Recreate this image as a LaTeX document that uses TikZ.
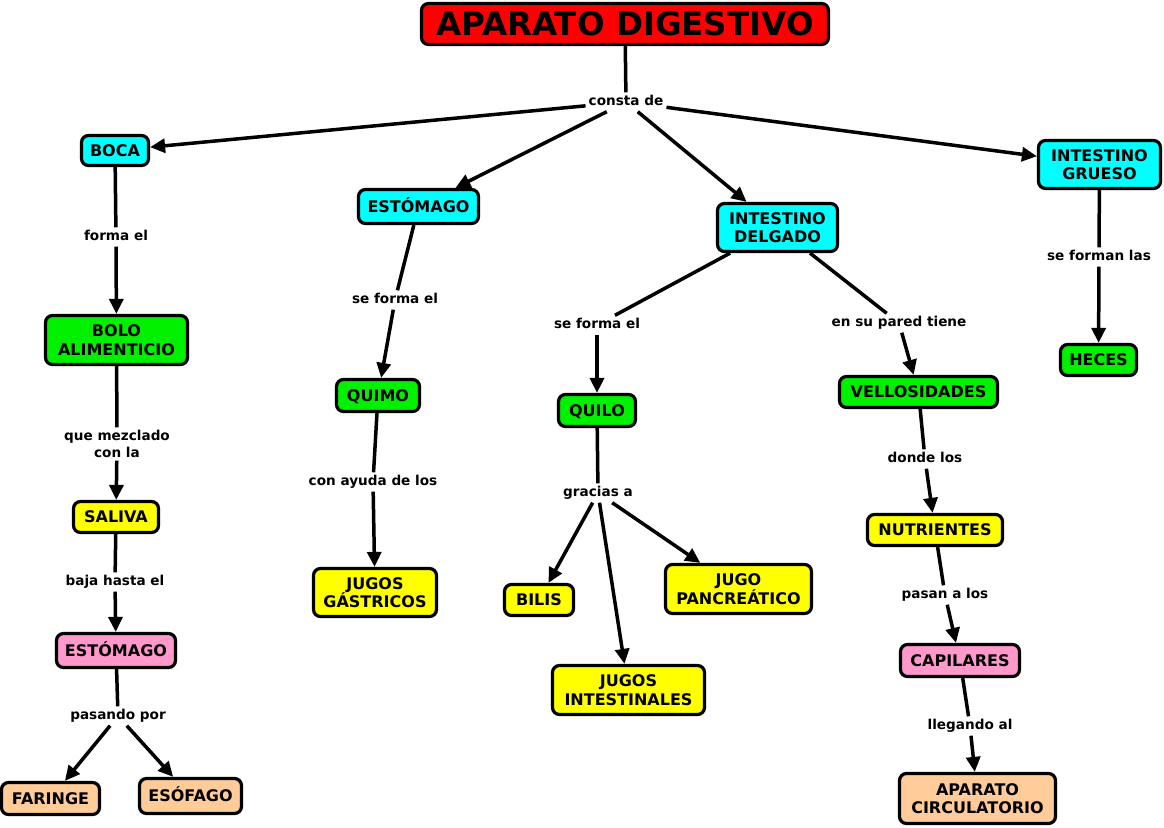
\documentclass[tikz,border=0pt]{standalone}
\usepackage{fontspec}
\setmainfont{DejaVu Sans}
\usetikzlibrary{arrows.meta}
\definecolor{cred}{HTML}{FF0000}
\definecolor{ccyan}{HTML}{00FFFF}
\definecolor{cgreen}{HTML}{00F000}
\definecolor{cyellow}{HTML}{FFFF00}
\definecolor{cpink}{HTML}{FF99CC}
\definecolor{cpeach}{HTML}{FFCC99}
\begin{document}
\begin{tikzpicture}[x=1pt,y=-1pt,
  boxb/.style={draw=black,line width=3.2pt,rounded corners=7pt,align=center,
    font=\bfseries\fontsize{16}{18.5}\selectfont,inner sep=0pt},
  box/.style={boxb,text height=11.7pt,text depth=0pt},
  lblb/.style={font=\bfseries\fontsize{13.6}{16.5}\selectfont,align=center,
    inner xsep=3pt,inner ysep=3pt},
  lbl/.style={lblb,text height=10pt,text depth=3pt},
  con/.style={line width=3.5pt},
  arr/.style={con,-{Triangle[length=15pt,width=14pt]}}]
\useasboundingbox (0,0) rectangle (1164,827);

% concept nodes
\node[box,fill=cred,minimum width=407,minimum height=41,
  font=\bfseries\fontsize{32.5}{36}\selectfont,text height=23.6pt] (title) at (625,24) {APARATO DIGESTIVO};
\node[box,fill=ccyan,minimum width=67,minimum height=30] (boca) at (115,150.5) {BOCA};
\node[box,fill=ccyan,minimum width=120,minimum height=34] (estc) at (418.5,206.5) {ESTÓMAGO};
\node[boxb,fill=ccyan,minimum width=120,minimum height=48] (delg) at (777.5,227.5) {INTESTINO\\DELGADO};
\node[boxb,fill=ccyan,minimum width=122,minimum height=48] (grue) at (1099.5,164.5) {INTESTINO\\GRUESO};
\node[boxb,fill=cgreen,minimum width=142,minimum height=49] (bolo) at (116.5,340) {BOLO\\ALIMENTICIO};
\node[box,fill=cyellow,minimum width=85,minimum height=31] (sali) at (116,517) {SALIVA};
\node[box,fill=cpink,minimum width=119,minimum height=34] (estp) at (116,650.5) {ESTÓMAGO};
\node[box,fill=cpeach,minimum width=98,minimum height=32] (fari) at (50.5,798.5) {FARINGE};
\node[box,fill=cpeach,minimum width=102,minimum height=35] (esof) at (190.5,796) {ESÓFAGO};
\node[box,fill=cgreen,minimum width=83,minimum height=32] (quim) at (378,395.5) {QUIMO};
\node[boxb,fill=cyellow,minimum width=123,minimum height=48] (gast) at (375,592.5) {JUGOS\\GÁSTRICOS};
\node[box,fill=cgreen,minimum width=77,minimum height=32] (quil) at (597,410.5) {QUILO};
\node[box,fill=cyellow,minimum width=69,minimum height=31] (bili) at (539,600) {BILIS};
\node[boxb,fill=cyellow,minimum width=146,minimum height=49] (panc) at (738.5,589) {JUGO\\PANCREÁTICO};
\node[boxb,fill=cyellow,minimum width=152,minimum height=49] (inte) at (628.5,690) {JUGOS\\INTESTINALES};
\node[box,fill=cgreen,minimum width=158,minimum height=31] (vell) at (918.5,392) {VELLOSIDADES};
\node[box,fill=cyellow,minimum width=135,minimum height=31] (nutr) at (935,530) {NUTRIENTES};
\node[box,fill=cpink,minimum width=119,minimum height=32] (capi) at (960,660.5) {CAPILARES};
\node[boxb,fill=cpeach,minimum width=156,minimum height=50] (circ) at (977.5,798.5) {APARATO\\CIRCULATORIO};
\node[box,fill=cgreen,minimum width=76,minimum height=31] (hece) at (1098.5,360) {HECES};

% linking phrases
\node[lbl] (l0) at (626,102) {consta de};
\node[lbl] (l1) at (116,237) {forma el};
\node[lblb] (l2) at (117,444) {que mezclado\\con la};
\node[lbl] (l3) at (115,582) {baja hasta el};
\node[lbl] (l4) at (118,716) {pasando por};
\node[lbl] (l5) at (395,300) {se forma el};
\node[lbl] (l6) at (373,482) {con ayuda de los};
\node[lbl] (l7) at (597,325) {se forma el};
\node[lbl] (l8) at (598,493) {gracias a};
\node[lbl] (l9) at (899,323) {en su pared tiene};
\node[lbl] (l10) at (925,459) {donde los};
\node[lbl] (l11) at (945,595) {pasan a los};
\node[lbl] (l12) at (970,726) {llegando al};
\node[lbl] (l13) at (1099,257) {se forman las};

% connectors
\draw[con] (title) -- (l0);
\draw[arr] (l0) -- (boca);
\draw[arr] (l0) -- (estc);
\draw[arr] (l0) -- (delg);
\draw[arr] (l0) -- (grue);

\draw[con] (boca) -- (l1);
\draw[arr] (l1) -- (bolo);
\draw[con] (bolo) -- (l2);
\draw[arr] (l2) -- (sali);
\draw[con] (sali) -- (l3);
\draw[arr] (l3) -- (estp);
\draw[con] (estp) -- (l4);
\draw[arr] (l4) -- (fari);
\draw[arr] (l4) -- (esof);

\draw[con] (estc) -- (l5);
\draw[arr] (l5) -- (quim);
\draw[con] (quim) -- (l6);
\draw[arr] (l6) -- (gast);

\draw[con] (delg) -- (l7);
\draw[arr] (l7) -- (quil);
\draw[con] (quil) -- (l8);
\draw[arr] (l8) -- (bili);
\draw[arr] (l8) -- (inte);
\draw[arr] (l8) -- (panc);

\draw[con] (delg) -- (l9);
\draw[arr] (l9) -- (vell);
\draw[con] (vell) -- (l10);
\draw[arr] (l10) -- (nutr);
\draw[con] (nutr) -- (l11);
\draw[arr] (l11) -- (capi);
\draw[con] (capi) -- (l12);
\draw[arr] (l12) -- (circ);

\draw[con] (grue) -- (l13);
\draw[arr] (l13) -- (hece);
\end{tikzpicture}
\end{document}
